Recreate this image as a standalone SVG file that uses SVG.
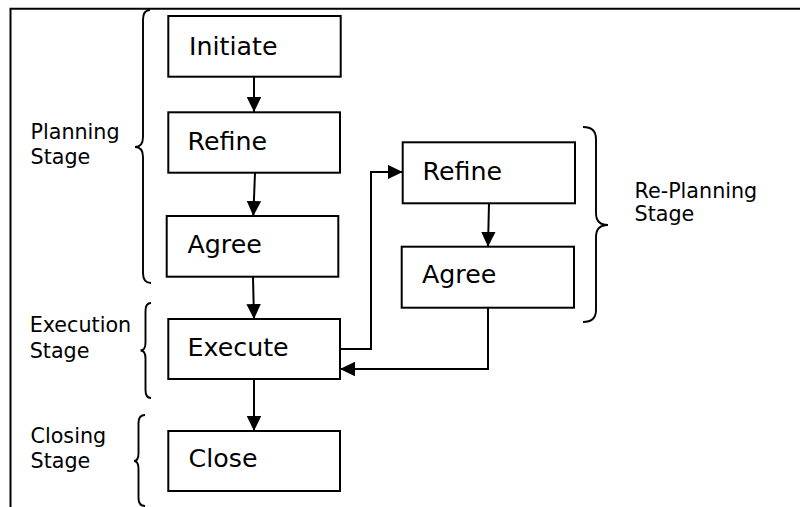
<svg xmlns="http://www.w3.org/2000/svg" width="800" height="507" viewBox="0 0 800 507">
<defs>
<style>
.box{fill:#fff;stroke:#000;stroke-width:2}
.bt{font-family:"DejaVu Sans",Verdana,sans-serif;font-size:25.3px;fill:#000}
.lb{font-family:"DejaVu Sans",Verdana,sans-serif;font-size:20.7px;fill:#000}
.ln{fill:none;stroke:#000;stroke-width:2}
.br{fill:none;stroke:#000;stroke-width:1.9}
</style>
<marker id="ah" markerUnits="userSpaceOnUse" markerWidth="16" markerHeight="15" refX="15" refY="7.25" orient="auto">
<path d="M0,0 L15,7.25 L0,14.5 z" fill="#000"/>
</marker>
</defs>
<rect width="800" height="507" fill="#fff"/>
<g id="frame">
<path class="ln" d="M10.5,507 L10.5,8.8 L800,8.8" stroke-width="2.2"/>
</g>
<g id="braces">
<path class="br" d="M150,10 Q143,10 143,20 L143,137 Q143,147 135,147 Q143,147 143,157 L143,273 Q143,283 151,283"/>
<path class="br" d="M151,303 Q145.5,303 145.5,311 L145.5,342.5 Q145.5,350.5 140.5,350.5 Q145.5,350.5 145.5,358.5 L145.5,390 Q145.5,398 151,398"/>
<path class="br" d="M145,415 Q138.5,415 138.5,423 L138.5,453 Q138.5,461 134,461 Q138.5,461 138.5,469 L138.5,498 Q138.5,506 145,506"/>
<path class="br" d="M583,127 Q596,127 596,139 L596,213 Q596,225 608,225 Q596,225 596,237 L596,310 Q596,322 583,322"/>
</g>
<g id="labels">
<text class="lb" x="30.5" y="139.3">Planning<tspan x="30.5" y="164.3">Stage</tspan></text>
<text class="lb" x="29.7" y="332.3">Execution<tspan x="29.7" y="358.3">Stage</tspan></text>
<text class="lb" x="30.5" y="442.7">Closing<tspan x="30.5" y="468.3">Stage</tspan></text>
<text class="lb" x="634.5" y="198.3">Re-Planning<tspan x="634.5" y="221">Stage</tspan></text>
</g>
<g id="connectors">
<path class="ln" d="M254,77 L254,112" marker-end="url(#ah)"/>
<path class="ln" d="M255,172.7 L253.3,216" marker-end="url(#ah)"/>
<path class="ln" d="M253,277 L254,319" marker-end="url(#ah)"/>
<path class="ln" d="M254,379 L254,431" marker-end="url(#ah)"/>
<path class="ln" d="M340,349 L371,349 L371,172 L402.7,172" marker-end="url(#ah)"/>
<path class="ln" d="M489,203.3 L488,246.7" marker-end="url(#ah)"/>
<path class="ln" d="M488,307.7 L488,369 L340,369" marker-end="url(#ah)"/>
</g>
<g id="initiate">
<rect class="box" x="168.3" y="16" width="172.4" height="60.7"/>
<text class="bt" x="189" y="55">Initiate</text>
</g>
<g id="refine">
<rect class="box" x="168.3" y="112.3" width="171.7" height="60.4"/>
<text class="bt" x="187.5" y="150">Refine</text>
</g>
<g id="agree">
<rect class="box" x="166.7" y="216" width="171.6" height="60.7"/>
<text class="bt" x="187.5" y="253.3">Agree</text>
</g>
<g id="execute">
<rect class="box" x="168.3" y="319" width="171.7" height="60"/>
<text class="bt" x="187.5" y="356">Execute</text>
</g>
<g id="close">
<rect class="box" x="168.3" y="431" width="171.7" height="60"/>
<text class="bt" x="188.6" y="467.3">Close</text>
</g>
<g id="refine2">
<rect class="box" x="402.7" y="142.3" width="172.3" height="61"/>
<text class="bt" x="422.5" y="180">Refine</text>
</g>
<g id="agree2">
<rect class="box" x="401.7" y="246.7" width="172.3" height="61"/>
<text class="bt" x="422" y="283.3">Agree</text>
</g>
</svg>
